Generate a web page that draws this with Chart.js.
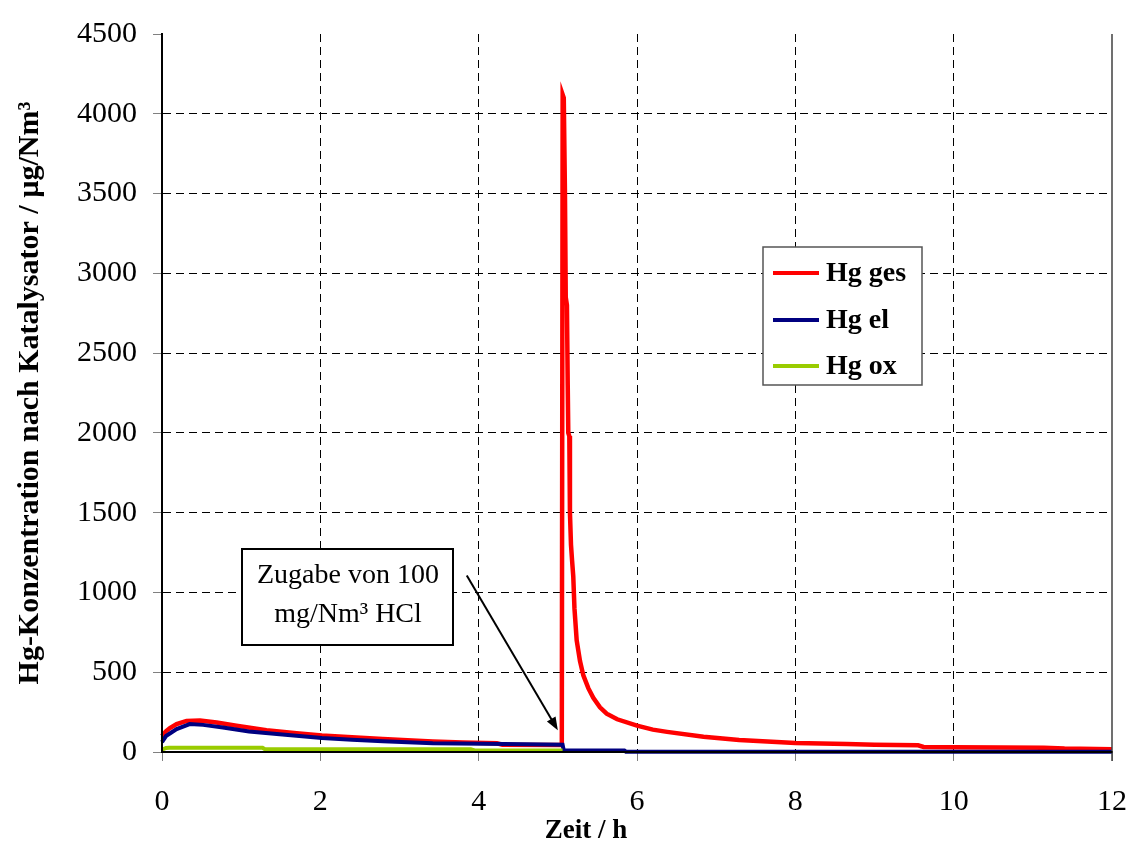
<!DOCTYPE html>
<html>
<head>
<meta charset="utf-8">
<script src="https://cdn.jsdelivr.net/npm/chart.js@4.4.1/dist/chart.umd.min.js"></script>
<style>
  body { margin: 0; background: #fff; }
</style>
</head>
<body>
<canvas id="hgChart" width="1130" height="850"></canvas>
<script>
// Zeit in h, Werte in µg/Nm³
const gesZeit = [0, 0.05, 0.1, 0.185, 0.31, 0.48, 0.69, 0.94, 1.32, 1.7, 2.02, 2.4, 2.79, 3.1, 3.42, 3.8, 4.23, 4.3, 5.05,
                 5.061, 5.075, 5.09, 5.1, 5.115, 5.125, 5.132, 5.145, 5.153, 5.166, 5.18, 5.195, 5.21, 5.238, 5.28,
                 5.322, 5.385, 5.448, 5.532, 5.617, 5.75, 6.0, 6.2, 6.38, 6.84, 7.29, 8.0, 8.65, 9.0, 9.55, 9.62,
                 10.0, 10.6, 11.14, 11.4, 12.0];
const gesWert = [100, 130, 150, 175, 195, 198, 185, 165, 137, 118, 103, 92, 82, 73, 66, 60, 55, 46, 44,
                 4120, 4100, 3500, 2850, 2800, 2300, 2000, 1980, 1500, 1300, 1200, 1100, 900, 700, 570,
                 480, 400, 340, 280, 240, 205, 165, 140, 126, 95, 75, 57, 50, 46, 42, 32,
                 30, 28, 27, 22, 18];

const elZeit = [0, 0.05, 0.185, 0.35, 0.52, 0.77, 1.1, 1.52, 2.02, 2.4, 2.79, 3.42, 4.05, 4.6, 5.06, 5.075, 5.84, 5.86, 12.0];
const elWert = [62, 100, 144, 175, 170, 154, 129, 109, 88, 77, 68, 55, 51, 48, 45, 10, 10, 2, 2];

const oxZeit = [0, 0.05, 0.09, 1.27, 1.3, 3.9, 3.95, 5.06];
const oxWert = [14, 25, 27, 27, 18, 18, 10, 10];

const seriesNames = ['Hg ges', 'Hg el', 'Hg ox'];
const seriesColors = ['#ff0000', '#000080', '#99cc00'];

const xTicks = [0, 2, 4, 6, 8, 10, 12];
const yTicks = [0, 500, 1000, 1500, 2000, 2500, 3000, 3500, 4000, 4500];

const xTitle = 'Zeit / h';
const noteLines = ['Zugabe von 100', 'mg/Nm³ HCl'];
const arrowStart = [3.85, 1106];
const arrowEnd = [5.0, 137];

function toPoints(xs, ys) {
    return xs.map((x, i) => ({x: x, y: ys[i]}));
}

const serif = '"Liberation Serif", "Times New Roman", serif';

const extras = {
    id: 'extras',
    afterDatasetsDraw(chart) {
        const ctx = chart.ctx;
        const area = chart.chartArea;
        const xs = chart.scales.x, ys = chart.scales.y;
        ctx.save();
        ctx.setLineDash([]);

        // Achsen und rechter Rand
        ctx.strokeStyle = '#404040';
        ctx.lineWidth = 1.5;
        ctx.beginPath();
        ctx.moveTo(area.right, area.top);
        ctx.lineTo(area.right, area.bottom + 9);
        ctx.stroke();
        ctx.strokeStyle = '#000';
        ctx.lineWidth = 2;
        ctx.beginPath();
        ctx.moveTo(area.left, area.top);
        ctx.lineTo(area.left, area.bottom);
        ctx.lineTo(area.right, area.bottom);
        ctx.stroke();

        // x-Achsentitel (im Original links von der Mitte)
        ctx.fillStyle = '#000';
        ctx.font = 'bold 27px ' + serif;
        ctx.textAlign = 'center';
        ctx.textBaseline = 'middle';
        ctx.fillText(xTitle, 586, 831);

        // Pfeil
        const ax1 = xs.getPixelForValue(arrowStart[0]), ay1 = ys.getPixelForValue(arrowStart[1]);
        const ax2 = xs.getPixelForValue(arrowEnd[0]), ay2 = ys.getPixelForValue(arrowEnd[1]);
        const ang = Math.atan2(ay2 - ay1, ax2 - ax1);
        ctx.strokeStyle = '#000';
        ctx.fillStyle = '#000';
        ctx.lineWidth = 2;
        ctx.beginPath();
        ctx.moveTo(ax1, ay1);
        ctx.lineTo(ax2 - 8 * Math.cos(ang), ay2 - 8 * Math.sin(ang));
        ctx.stroke();
        ctx.beginPath();
        ctx.moveTo(ax2, ay2);
        ctx.lineTo(ax2 - 13 * Math.cos(ang) + 5 * Math.sin(ang), ay2 - 13 * Math.sin(ang) - 5 * Math.cos(ang));
        ctx.lineTo(ax2 - 13 * Math.cos(ang) - 5 * Math.sin(ang), ay2 - 13 * Math.sin(ang) + 5 * Math.cos(ang));
        ctx.closePath();
        ctx.fill();

        // Textfeld
        ctx.fillStyle = '#fff';
        ctx.fillRect(242, 549, 211, 96);
        ctx.strokeStyle = '#000';
        ctx.lineWidth = 2;
        ctx.strokeRect(242, 549, 211, 96);
        ctx.fillStyle = '#000';
        ctx.font = '28px ' + serif;
        ctx.textAlign = 'center';
        ctx.textBaseline = 'alphabetic';
        ctx.fillText(noteLines[0], 348, 583);
        ctx.fillText(noteLines[1], 348, 622);

        // Legende
        ctx.fillStyle = '#fff';
        ctx.fillRect(763, 247, 159, 138);
        ctx.strokeStyle = '#555';
        ctx.lineWidth = 1.5;
        ctx.strokeRect(763, 247, 159, 138);
        ctx.font = 'bold 28px ' + serif;
        ctx.textAlign = 'left';
        ctx.textBaseline = 'middle';
        const rows = [273, 320, 366];
        seriesNames.forEach((name, i) => {
            ctx.strokeStyle = seriesColors[i];
            ctx.lineWidth = 4;
            ctx.beginPath();
            ctx.moveTo(773, rows[i]);
            ctx.lineTo(819, rows[i]);
            ctx.stroke();
            ctx.fillStyle = '#000';
            ctx.fillText(name, 826, rows[i] + 1);
        });
        ctx.restore();
    }
};

new Chart(document.getElementById('hgChart'), {
    type: 'line',
    data: {
        datasets: [
            {label: seriesNames[0], data: toPoints(gesZeit, gesWert), borderColor: seriesColors[0], borderWidth: 4.5, order: 3},
            {label: seriesNames[1], data: toPoints(elZeit, elWert), borderColor: seriesColors[1], borderWidth: 4, order: 2},
            {label: seriesNames[2], data: toPoints(oxZeit, oxWert), borderColor: seriesColors[2], borderWidth: 4, order: 1}
        ]
    },
    options: {
        responsive: false,
        animation: false,
        elements: {
            point: {radius: 0},
            line: {tension: 0}
        },
        datasets: {line: {clip: false}},
        layout: {padding: {top: 22, right: 0, left: 0, bottom: 0}},
        plugins: {
            legend: {display: false},
            tooltip: {enabled: false}
        },
        scales: {
            x: {
                type: 'linear',
                min: 0,
                max: 12,
                afterBuildTicks: s => { s.ticks = xTicks.map(v => ({value: v})); },
                ticks: {
                    color: '#000',
                    maxRotation: 0,
                    padding: 23,
                    font: {family: serif, size: 30},
                    callback: v => String(v)
                },
                grid: {
                    color: c => (c.tick && (c.tick.value === 0 || c.tick.value === 12)) ? 'rgba(0,0,0,0)' : '#000',
                    lineWidth: 1,
                    tickLength: 9,
                    tickColor: '#808080',
                    tickBorderDash: []
                },
                border: {color: '#000', width: 2, dash: [8, 5]},
                title: {display: false},
                afterFit: s => { s.height = 98; s.paddingLeft = 0; s.paddingRight = 18; }
            },
            y: {
                min: 0,
                max: 4500,
                afterBuildTicks: s => { s.ticks = yTicks.map(v => ({value: v})); },
                ticks: {
                    color: '#000',
                    padding: 16,
                    font: {family: serif, size: 30},
                    callback: v => String(v)
                },
                grid: {
                    color: c => (c.tick && (c.tick.value === 0 || c.tick.value === 4500)) ? 'rgba(0,0,0,0)' : '#000',
                    lineWidth: 1,
                    tickLength: 9,
                    tickColor: '#808080',
                    tickBorderDash: []
                },
                border: {color: '#000', width: 2, dash: [8, 5]},
                title: {
                    display: true,
                    text: 'Hg-Konzentration nach Katalysator / µg/Nm³',
                    color: '#000',
                    font: {family: serif, size: 30, weight: 'bold'},
                    padding: {top: 12, bottom: 0}
                },
                afterFit: s => { s.width = 162; }
            }
        }
    },
    plugins: [extras]
});
</script>
</body>
</html>
